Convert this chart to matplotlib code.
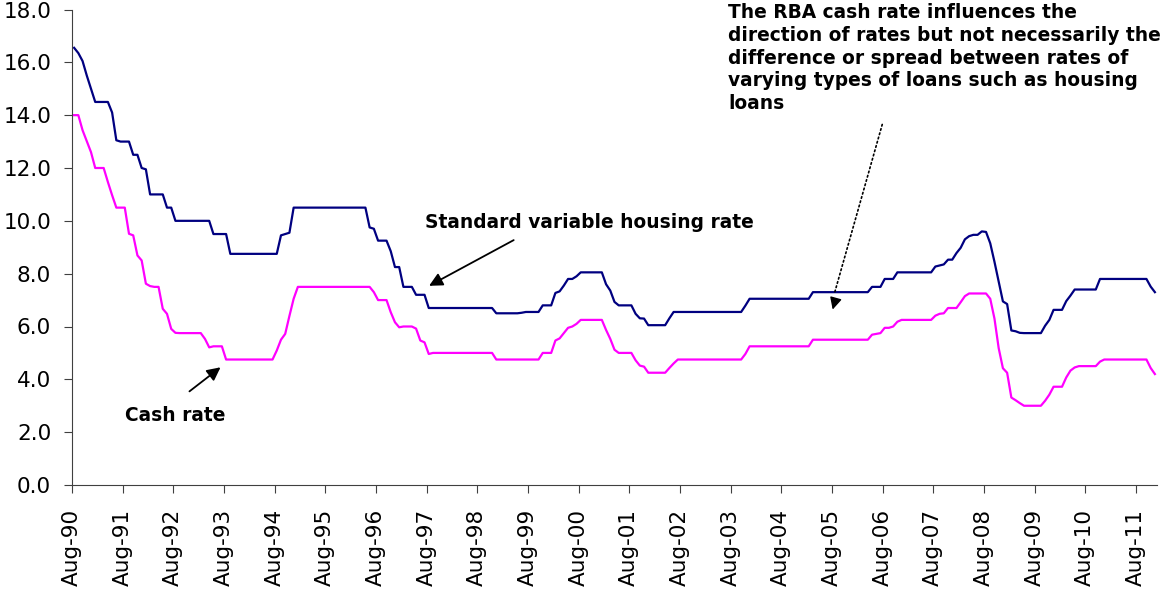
# RBA cash rate vs standard variable housing rate, Aug-1990 to Dec-2011 (monthly)

import matplotlib.pyplot as plt
import numpy as np

# standard variable housing rate, one value per month starting Aug-90
housing_rate = [
    16.55, 16.35, 16.05, 15.5, 15.0, 14.5, 14.5, 14.5, 14.5, 14.1, 13.05, 13.0,
    13.0, 13.0, 12.5, 12.5, 12.0, 11.95, 11.0, 11.0, 11.0, 11.0, 10.5, 10.5,
    10.0, 10.0, 10.0, 10.0, 10.0, 10.0, 10.0, 10.0, 10.0, 9.5, 9.5, 9.5,
    9.5, 8.75, 8.75, 8.75, 8.75, 8.75, 8.75, 8.75, 8.75, 8.75, 8.75, 8.75,
    8.75, 9.45, 9.5, 9.55, 10.5, 10.5, 10.5, 10.5, 10.5, 10.5, 10.5, 10.5,
    10.5, 10.5, 10.5, 10.5, 10.5, 10.5, 10.5, 10.5, 10.5, 10.5, 9.75, 9.7,
    9.25, 9.25, 9.25, 8.85, 8.25, 8.25, 7.5, 7.5, 7.5, 7.2, 7.2, 7.2,
    6.7, 6.7, 6.7, 6.7, 6.7, 6.7, 6.7, 6.7, 6.7, 6.7, 6.7, 6.7,
    6.7, 6.7, 6.7, 6.7, 6.5, 6.5, 6.5, 6.5, 6.5, 6.5, 6.52, 6.55,
    6.55, 6.55, 6.55, 6.8, 6.8, 6.8, 7.27, 7.33, 7.55, 7.8, 7.8, 7.9,
    8.05, 8.05, 8.05, 8.05, 8.05, 8.05, 7.6, 7.36, 6.93, 6.8, 6.8, 6.8,
    6.8, 6.48, 6.31, 6.3, 6.05, 6.05, 6.05, 6.05, 6.05, 6.31, 6.55, 6.55,
    6.55, 6.55, 6.55, 6.55, 6.55, 6.55, 6.55, 6.55, 6.55, 6.55, 6.55, 6.55,
    6.55, 6.55, 6.55, 6.79, 7.05, 7.05, 7.05, 7.05, 7.05, 7.05, 7.05, 7.05,
    7.05, 7.05, 7.05, 7.05, 7.05, 7.05, 7.05, 7.3, 7.3, 7.3, 7.3, 7.3,
    7.3, 7.3, 7.3, 7.3, 7.3, 7.3, 7.3, 7.3, 7.3, 7.5, 7.5, 7.5,
    7.8, 7.8, 7.8, 8.05, 8.05, 8.05, 8.05, 8.05, 8.05, 8.05, 8.05, 8.05,
    8.27, 8.31, 8.35, 8.53, 8.53, 8.78, 8.98, 9.3, 9.42, 9.47, 9.47, 9.6,
    9.58, 9.15, 8.45, 7.7, 6.95, 6.85, 5.85, 5.82, 5.76, 5.75, 5.75, 5.75,
    5.75, 5.75, 6.03, 6.25, 6.63, 6.63, 6.63, 6.96, 7.17, 7.4, 7.4, 7.4,
    7.4, 7.4, 7.4, 7.8, 7.8, 7.8, 7.8, 7.8, 7.8, 7.8, 7.8, 7.8,
    7.8, 7.8, 7.8, 7.51, 7.3,
]

# RBA cash rate, same months
cash_rate = [
    14.0, 14.0, 13.43, 13.02, 12.6, 12.0, 12.0, 12.0, 11.47, 10.97, 10.5, 10.5,
    10.5, 9.51, 9.45, 8.69, 8.5, 7.62, 7.53, 7.5, 7.5, 6.67, 6.48, 5.91,
    5.76, 5.75, 5.75, 5.75, 5.75, 5.75, 5.75, 5.53, 5.21, 5.25, 5.25, 5.25,
    4.75, 4.75, 4.75, 4.75, 4.75, 4.75, 4.75, 4.75, 4.75, 4.75, 4.75, 4.75,
    5.09, 5.5, 5.72, 6.4, 7.05, 7.5, 7.5, 7.5, 7.5, 7.5, 7.5, 7.5,
    7.5, 7.5, 7.5, 7.5, 7.5, 7.5, 7.5, 7.5, 7.5, 7.5, 7.5, 7.3,
    7.0, 7.0, 7.0, 6.54, 6.16, 5.97, 6.0, 6.0, 6.0, 5.92, 5.47, 5.4,
    4.96, 5.0, 5.0, 5.0, 5.0, 5.0, 5.0, 5.0, 5.0, 5.0, 5.0, 5.0,
    5.0, 5.0, 5.0, 5.0, 4.75, 4.75, 4.75, 4.75, 4.75, 4.75, 4.75, 4.75,
    4.75, 4.75, 4.75, 5.0, 5.0, 5.0, 5.47, 5.55, 5.75, 5.95, 6.0, 6.1,
    6.25, 6.25, 6.25, 6.25, 6.25, 6.25, 5.87, 5.53, 5.12, 5.0, 5.0, 5.0,
    5.0, 4.72, 4.52, 4.48, 4.25, 4.25, 4.25, 4.25, 4.25, 4.43, 4.6, 4.75,
    4.75, 4.75, 4.75, 4.75, 4.75, 4.75, 4.75, 4.75, 4.75, 4.75, 4.75, 4.75,
    4.75, 4.75, 4.75, 4.96, 5.25, 5.25, 5.25, 5.25, 5.25, 5.25, 5.25, 5.25,
    5.25, 5.25, 5.25, 5.25, 5.25, 5.25, 5.25, 5.5, 5.5, 5.5, 5.5, 5.5,
    5.5, 5.5, 5.5, 5.5, 5.5, 5.5, 5.5, 5.5, 5.5, 5.69, 5.72, 5.75,
    5.95, 5.95, 6.0, 6.18, 6.25, 6.25, 6.25, 6.25, 6.25, 6.25, 6.25, 6.25,
    6.41, 6.48, 6.5, 6.7, 6.7, 6.7, 6.92, 7.15, 7.25, 7.25, 7.25, 7.25,
    7.25, 7.05, 6.3, 5.18, 4.42, 4.25, 3.31, 3.21, 3.1, 3.0, 3.0, 3.0,
    3.0, 3.0, 3.19, 3.42, 3.72, 3.72, 3.72, 4.07, 4.33, 4.45, 4.5, 4.5,
    4.5, 4.5, 4.5, 4.67, 4.75, 4.75, 4.75, 4.75, 4.75, 4.75, 4.75, 4.75,
    4.75, 4.75, 4.75, 4.43, 4.2,
]

# one label every 12 months
tick_labels = ["Aug-90", "Aug-91", "Aug-92", "Aug-93", "Aug-94", "Aug-95",
               "Aug-96", "Aug-97", "Aug-98", "Aug-99", "Aug-00", "Aug-01",
               "Aug-02", "Aug-03", "Aug-04", "Aug-05", "Aug-06", "Aug-07",
               "Aug-08", "Aug-09", "Aug-10", "Aug-11"]

x = np.arange(len(cash_rate))

fig = plt.figure(figsize=(11.64, 5.92), dpi=100)
ax = fig.add_axes([72/1164, 1 - 485/592, (1157 - 72)/1164, (485 - 9.5)/592])

ax.plot(x, housing_rate, color="#000080", lw=1.6)
ax.plot(x, cash_rate, color="#FF00FF", lw=1.6)

ax.set_xlim(-0.5, len(cash_rate) - 0.5)
ax.set_ylim(0, 18)
ax.set_yticks(np.arange(0, 18.1, 2))
ax.set_yticklabels(["%.1f" % v for v in np.arange(0, 18.1, 2)])
ax.set_xticks([12*k - 0.5 for k in range(len(tick_labels))])
ax.set_xticklabels(tick_labels, rotation=90)

for s in ["top", "right"]:
    ax.spines[s].set_visible(False)
for s in ["left", "bottom"]:
    ax.spines[s].set_color("#404040")
ax.tick_params(axis="both", direction="out", length=6, color="#404040",
               labelsize=15.5)
ax.tick_params(axis="y", pad=9)
ax.tick_params(axis="x", pad=11)

# annotations
ax.text(83.2, 9.92, "Standard variable housing rate", fontsize=13.4,
        fontweight="bold", ha="left", va="center")
ax.annotate("", xy=(83.5, 7.49), xytext=(104.7, 9.32),
            arrowprops=dict(arrowstyle="-|>", color="black", lw=1.3,
                            mutation_scale=20))

ax.text(12.0, 2.62, "Cash rate", fontsize=13.4, fontweight="bold",
        ha="left", va="center")
ax.annotate("", xy=(35.2, 4.52), xytext=(26.8, 3.48),
            arrowprops=dict(arrowstyle="-|>", color="black", lw=1.3,
                            mutation_scale=20))

fig.text(728/1164, 1 - 3/592,
         "The RBA cash rate influences the\n"
         "direction of rates but not necessarily the\n"
         "difference or spread between rates of\n"
         "varying types of loans such as housing\n"
         "loans",
         fontsize=13.4, fontweight="bold", ha="left", va="top", linespacing=1.25)

# dotted pointer
ax.annotate("", xy=(180.0, 7.2), xytext=(191.6, 13.75),
            arrowprops=dict(arrowstyle="-", color="black", lw=1.2,
                            linestyle=":"), annotation_clip=False)
ax.annotate("", xy=(179.5, 6.54), xytext=(180.3, 7.0),
            arrowprops=dict(arrowstyle="-|>", color="black", lw=1.0,
                            mutation_scale=18))

plt.savefig("out.png", dpi=100)
